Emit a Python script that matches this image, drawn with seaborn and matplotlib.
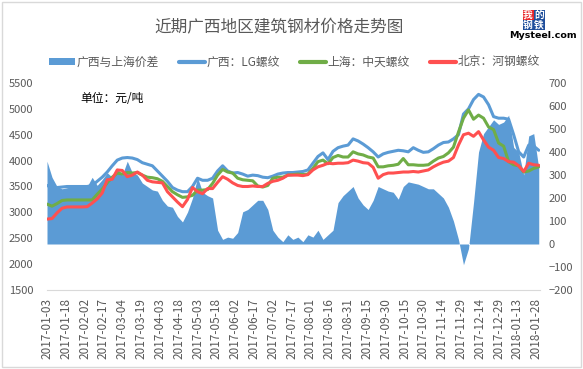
"""
Recent Guangxi construction steel price trend chart.
Left axis: rebar prices (yuan/ton); right axis: Guangxi - Shanghai spread (area).
"""

import pandas as pd
import seaborn as sns
from matplotlib import pyplot as plt
from matplotlib.lines import Line2D
from matplotlib.patches import Patch, Rectangle

#############################################################

sns.set_style("white")
plt.rcParams['font.family'] = ['Noto Sans CJK SC', 'DejaVu Sans']

# Data, one sample every 4 days starting 2017-01-03.
start_date = "2017-01-03"

guangxi_lg = [
    3520, 3480, 3480, 3490, 3500, 3500, 3500, 3500, 3500, 3520,
    3600, 3680, 3780, 3900, 4010, 4050, 4060, 4050, 4020, 3960,
    3930, 3900, 3800, 3700, 3600, 3480, 3430, 3400, 3400, 3500,
    3660, 3620, 3620, 3660, 3800, 3900, 3800, 3760, 3770, 3740,
    3700, 3720, 3710, 3680, 3670, 3700, 3740, 3760, 3770, 3770,
    3780, 3790, 3820, 3950, 4080, 4150, 4020, 4180, 4250, 4280,
    4300, 4420, 4380, 4320, 4250, 4170, 4070, 4130, 4160, 4180,
    4200, 4190, 4170, 4250, 4200, 4160, 4170, 4230, 4300, 4350,
    4360, 4420, 4500, 4900, 5000, 5180, 5280, 5230, 5080, 4850,
    4820, 4820, 4800, 4500, 4170, 4070, 4300, 4280, 4200,
]

shanghai_zt = [
    3160, 3120, 3170, 3230, 3240, 3240, 3240, 3240, 3240, 3240,
    3350, 3450, 3570, 3680, 3760, 3740, 3770, 3760, 3770, 3720,
    3680, 3670, 3650, 3600, 3500, 3400, 3340, 3290, 3300, 3330,
    3430, 3430, 3440, 3560, 3720, 3830, 3780, 3760, 3660, 3630,
    3620, 3610, 3510, 3490, 3520, 3660, 3680, 3680, 3720, 3730,
    3740, 3730, 3740, 3850, 3980, 4010, 3940, 4060, 4100, 4070,
    4070, 4170, 4130, 4110, 4070, 4050, 3880, 3880, 3900, 3910,
    3930, 4040, 3920, 3920, 3910, 3910, 3920, 3990, 4050, 4080,
    4150, 4260, 4550, 4820, 4980, 4800, 4880, 4820, 4650, 4600,
    4340, 4280, 3980, 3920, 3900, 3780, 3800, 3850, 3880,
]

beijing_hg = [
    2870, 2880, 2990, 3080, 3105, 3105, 3105, 3105, 3110, 3180,
    3260, 3375, 3630, 3640, 3820, 3810, 3690, 3720, 3780, 3720,
    3620, 3590, 3580, 3570, 3400, 3300, 3200, 3110, 3250, 3480,
    3400, 3360, 3460, 3460, 3580, 3690, 3640, 3570, 3520, 3500,
    3500, 3510, 3500, 3500, 3560, 3600, 3620, 3660, 3720, 3720,
    3720, 3710, 3730, 3820, 3880, 3910, 3950, 3940, 3950, 3950,
    3960, 4010, 3990, 3960, 3950, 3870, 3660, 3730, 3760, 3760,
    3770, 3780, 3780, 3790, 3780, 3800, 3820, 3880, 3930, 3970,
    3990, 4060, 4300, 4500, 4530, 4470, 4560, 4400, 4260, 4200,
    4060, 4040, 3980, 3970, 3900, 3790, 3950, 3920, 3910,
]

spread = [
    360, 290, 250, 240, 245, 248, 248, 248, 250, 290,
    255, 280, 310, 290, 330, 300, 360, 310, 300, 265,
    250, 235, 230, 190, 165, 160, 120, 96, 139, 200,
    290, 225, 210, 200, 60, 20, 30, 25, 50, 140,
    150, 170, 190, 190, 150, 60, 30, 10, 40, 20,
    30, 10, 40, 30, 60, 20, 40, 60, 180, 210,
    230, 250, 200, 170, 150, 190, 250, 240, 230, 225,
    195, 250, 270, 265, 260, 250, 240, 240, 220, 200,
    160, 100, 20, -90, -20, 180, 400, 480, 510, 540,
    520, 530, 560, 420, 400, 300, 470, 480, 330,
]

series_names = ["广西与上海价差", "广西：LG螺纹", "上海：中天螺纹", "北京：河钢螺纹"]
title_text = "近期广西地区建筑钢材价格走势图"
unit_text = "单位：元/吨"

blue = "#5B9BD5"
green = "#70AD47"
red = "#FF5050"
grey_text = "#595959"

#############################################################

dates = pd.date_range(start_date, periods=len(spread), freq="4D")
price_df = pd.DataFrame({
    "date": dates,
    series_names[1]: guangxi_lg,
    series_names[2]: shanghai_zt,
    series_names[3]: beijing_hg,
})
long_df = price_df.melt(id_vars="date", var_name="series", value_name="price")

fig = plt.figure(figsize=(5.83, 3.69), dpi=100)
ax = fig.add_axes([47 / 583, 1 - 290 / 369, (540 - 47) / 583, (290 - 83) / 369])
ax2 = ax.twinx()

# Spread area on the secondary axis, kept behind the price lines.
ax2.fill_between(dates, 0, spread, color=blue, linewidth=0)
ax2.set_ylim(-200, 700)
ax2.set_yticks(range(-200, 701, 100))

ax.set_zorder(ax2.get_zorder() + 1)
ax.patch.set_visible(False)

sns.lineplot(data=long_df, x="date", y="price", hue="series",
             palette=[blue, green, red], linewidth=2.2, ax=ax, legend=False)
ax.set_ylim(1500, 5500)
ax.set_yticks(range(1500, 5501, 500))
ax.set_xlim(pd.Timestamp("2017-01-03"), pd.Timestamp("2018-01-31"))

tick_dates = pd.date_range("2017-01-03", "2018-01-28", freq="15D")
ax.set_xticks(tick_dates)
ax.set_xticklabels([d.strftime("%Y-%m-%d") for d in tick_dates], rotation=90)
ax.set_xlabel("")
ax.set_ylabel("")

for a in (ax, ax2):
    for side in ("top", "left", "right"):
        a.spines[side].set_visible(False)
    a.spines["bottom"].set_color("#D9D9D9")
    a.tick_params(labelsize=8, colors=grey_text, length=0, pad=10)
ax2.tick_params(pad=6)
ax.tick_params(axis="x", labelsize=8.5, length=3, color="#D9D9D9", pad=3)
ax2.spines["bottom"].set_visible(False)

# Title, unit note and legend.
fig.text(0.478, 1 - 28 / 369, title_text, ha="center", va="center",
         fontsize=12, color=grey_text)
fig.text(80 / 583, 1 - 99 / 369, unit_text, ha="left", va="center",
         fontsize=8.5, color="black")

handles = [
    Patch(facecolor=blue, edgecolor="none"),
    Line2D([], [], color=blue, linewidth=3),
    Line2D([], [], color=green, linewidth=3),
    Line2D([], [], color=red, linewidth=3),
]
fig.legend(handles, series_names, loc="center", bbox_to_anchor=(0.505, 1 - 62 / 369),
           ncol=4, frameon=False, fontsize=8.5, handlelength=2.2, handleheight=0.5,
           handletextpad=0.15, columnspacing=1.7, labelcolor=grey_text)

# Mysteel logo in the top right corner.
logo_chars = [("我", "#E8262B", 528, 15), ("的", "#1F4E9B", 539, 15),
              ("钢", "#1F4E9B", 528, 25), ("铁", "#1F4E9B", 539, 25)]
for ch, col, px, py in logo_chars:
    fig.patches.append(Rectangle(((px - 5.5) / 583, 1 - (py + 5) / 369), 11 / 583, 10 / 369,
                                 transform=fig.transFigure, facecolor=col, edgecolor="none"))
    fig.text(px / 583, 1 - py / 369, ch, ha="center", va="center", fontsize=7,
             color="white", fontweight="bold")
fig.text(543 / 583, 1 - 36 / 369, "Mysteel.com", ha="center", va="center",
         fontsize=6.8, color="black", fontweight="bold", family="DejaVu Sans")

# Light chart border.
fig.patches.append(Rectangle((2 / 583, 2 / 369), 579 / 583, 365 / 369, transform=fig.transFigure,
                             facecolor="none", edgecolor="#D9D9D9", linewidth=1))

fig.savefig("out.png", dpi=100)
